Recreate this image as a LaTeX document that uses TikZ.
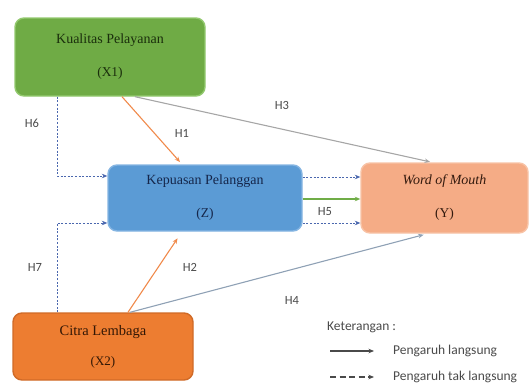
\documentclass[tikz,border=0pt]{standalone}
\usepackage{fontspec}
\setmainfont{Liberation Serif}
\newfontfamily\labfont{Carlito}
\usetikzlibrary{arrows.meta}

\definecolor{greenfill}{HTML}{6FAB45}
\definecolor{greenedge}{HTML}{93C96F}
\definecolor{greentext}{HTML}{1A2E0C}
\definecolor{bluefill}{HTML}{5B9BD5}
\definecolor{blueedge}{HTML}{85B5E2}
\definecolor{bluetext}{HTML}{15264A}
\definecolor{salmonfill}{HTML}{F5AC86}
\definecolor{salmonedge}{HTML}{F8C3A6}
\definecolor{salmontext}{HTML}{331A0E}
\definecolor{orangefill}{HTML}{ED7D31}
\definecolor{orangeedge}{HTML}{D06A27}
\definecolor{orangetext}{HTML}{331705}
\definecolor{arroworange}{HTML}{F08A4B}
\definecolor{arrowgrey}{HTML}{A6A6A6}
\definecolor{arrowslate}{HTML}{8FA1B5}
\definecolor{arrowdot}{HTML}{4A67AE}
\definecolor{arrowgreen}{HTML}{70AD47}
\definecolor{labelgrey}{HTML}{4A4A4A}

\tikzset{
  varbox/.style={rectangle, rounded corners=9pt, line width=1.4pt, align=center,
    font=\fontsize{14}{33}\selectfont},
  tip/.style={-{Stealth[length=5.5pt,width=4.5pt]}},
  direct/.style={tip, line width=1.1pt},
  indirect/.style={tip, line width=0.7pt, color=arrowdot, dash pattern=on 2pt off 1.6pt},
  hlabel/.style={font=\labfont\fontsize{12.5}{12.5}\selectfont, text=labelgrey, inner sep=0pt},
  legendtext/.style={font=\labfont\fontsize{13.5}{13.5}\selectfont, text=labelgrey, inner sep=0pt, anchor=west},
}

\begin{document}
\begin{tikzpicture}[x=1pt, y={(0pt,-1pt)}]
\useasboundingbox (0,0) rectangle (530,383);

% variables
\node[varbox, fill=greenfill, draw=greenedge, text=greentext,
      minimum width=190pt, minimum height=78pt] (X1) at (110,57)
      {Kualitas Pelayanan\\{\fontsize{13.5}{13.5}\selectfont(X1)}};
\node[varbox, fill=bluefill, draw=blueedge, text=bluetext,
      minimum width=194pt, minimum height=66pt] (Z) at (205,198)
      {Kepuasan Pelanggan\\{\fontsize{13.5}{13.5}\selectfont(Z)}};
\node[varbox, fill=salmonfill, draw=salmonedge, text=salmontext,
      minimum width=167pt, minimum height=70pt] (Y) at (444.5,198)
      {\itshape Word of Mouth\\{\fontsize{13.5}{13.5}\selectfont(Y)}};
\node[varbox, fill=orangefill, draw=orangeedge, text=orangetext,
      font=\fontsize{14.5}{30}\selectfont,
      minimum width=180pt, minimum height=67pt] (X2) at (103,346.5)
      {Citra Lembaga\\{\fontsize{13}{13}\selectfont(X2)}};

% indirect paths through Z
\draw[indirect] ([xshift=-53pt]X1.south) |- ([yshift=22pt]Z.west);
\draw[indirect] ([xshift=-46pt]X2.north) |- ([yshift=-25pt]Z.west);
\draw[indirect] ([yshift=21pt]Z.east) -- ([yshift=21pt]Y.west);
\draw[indirect] ([yshift=-25pt]Z.east) -- ([yshift=-25pt]Y.west);

% direct paths
\draw[direct, arroworange, shorten >=3pt] ([xshift=12pt]X1.south) -- ([xshift=-23pt]Z.north);
\draw[direct, arrowgrey, shorten >=2pt] ([xshift=25pt]X1.south) -- ([xshift=-12.5pt]Y.north);
\draw[direct, arroworange, shorten >=8pt] ([xshift=25pt]X2.north) -- ([xshift=-23pt]Z.south);
\draw[direct, arrowslate, shorten >=4pt] ([xshift=27pt]X2.north) -- ([xshift=-17pt]Y.south);
\draw[direct, arrowgreen] ([yshift=-1pt]Z.east) -- ([yshift=-1pt]Y.west);

% hypothesis labels
\node[hlabel] (h6) at (32,123) {H6};
\node[hlabel] (h1) at (182,133) {H1};
\node[hlabel] (h3) at (282,105) {H3};
\node[hlabel] (h5) at (325,212) {H5};
\node[hlabel] (h7) at (35,267) {H7};
\node[hlabel] (h2) at (190,267) {H2};
\node[hlabel] (h4) at (292,300) {H4};

% legend
\node[legendtext] (ket) at (327,327) {Keterangan :};
\coordinate (la1) at (330,351);
\coordinate (lb1) at (374,351);
\coordinate (la2) at (330,377);
\coordinate (lb2) at (374,377);
\draw[tip, line width=1.2pt, color=labelgrey] (la1) -- (lb1);
\draw[tip, line width=1.2pt, color=labelgrey, dash pattern=on 6pt off 3.5pt] (la2) -- (lb2);
\node[legendtext] (t1) at (393,351) {Pengaruh langsung};
\node[legendtext] (t2) at (393,377) {Pengaruh tak langsung};
\end{tikzpicture}
\end{document}
